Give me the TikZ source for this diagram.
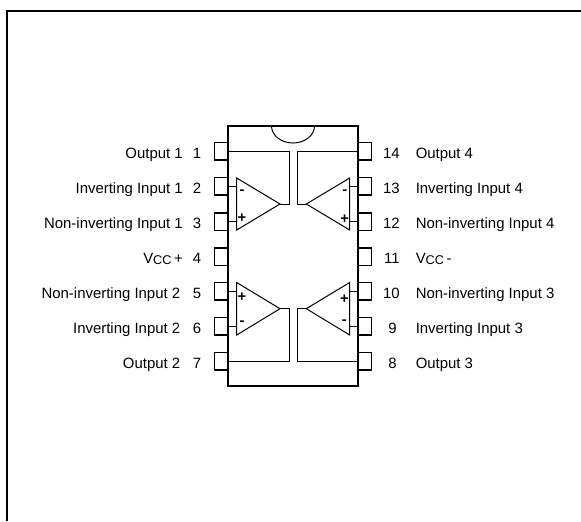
\documentclass[tikz,border=0pt]{standalone}
\usepackage{fontspec}
\setmainfont{Liberation Sans}
\newcommand{\vccname}{V{\fontsize{9.5pt}{10pt}\selectfont\raisebox{-0.8pt}{CC}}}
\tikzset{
  pinbox/.style={draw,line width=1pt,fill=white,minimum width=10pt,minimum height=13pt,inner sep=0pt,outer sep=0pt},
  pinlabel/.style={inner sep=0.75pt,font=\fontsize{11.2pt}{12pt}\selectfont},
  wire/.style={line width=0.75pt},
  signmark/.style={inner sep=0pt,font=\bfseries\fontsize{11pt}{12pt}\selectfont}
}
\begin{document}
\begin{tikzpicture}[x=0.75pt,y=0.75pt,yscale=-1,xscale=1]
\useasboundingbox (0,0) rectangle (581,521);

%Frame
\coordinate (frameTL) at (7,10.5);
\coordinate (frameTR) at (581,10.5);
\coordinate (frameBL) at (7,521);
\draw [line width=1.5pt] (frameTR) -- (frameTL) -- (frameBL);

%Package
\coordinate (chipTL) at (228,126);
\coordinate (chipBR) at (358,386);
\coordinate (notchL) at (271.5,126);
\coordinate (notchR) at (314.5,126);
\draw [line width=1.1pt] (chipTL) rectangle (chipBR);
\draw [wire] (notchL) arc [start angle=180,end angle=360,x radius=21.5,y radius=-17];

%Pins left
\node (p1) [pinbox,anchor=east] at (228,151.3) {};
\node (p2) [pinbox,anchor=east] at (228,186.3) {};
\node (p3) [pinbox,anchor=east] at (228,221.5) {};
\node (p4) [pinbox,anchor=east] at (228,256.5) {};
\node (p5) [pinbox,anchor=east] at (228,291.3) {};
\node (p6) [pinbox,anchor=east] at (228,326.3) {};
\node (p7) [pinbox,anchor=east] at (228,361.3) {};
%Pins right
\node (p14) [pinbox,anchor=west] at (358,151.3) {};
\node (p13) [pinbox,anchor=west] at (358,186.3) {};
\node (p12) [pinbox,anchor=west] at (358,221.5) {};
\node (p11) [pinbox,anchor=west] at (358,256.5) {};
\node (p10) [pinbox,anchor=west] at (358,291.3) {};
\node (p9) [pinbox,anchor=west] at (358,326.3) {};
\node (p8) [pinbox,anchor=west] at (358,361.3) {};

%Amp 1
\coordinate (a1T) at (236.7,178);
\coordinate (a1B) at (236.7,230);
\coordinate (a1O) at (280,204);
\coordinate (a1E) at (289,204);
\draw [wire] (a1T) -- (a1B) -- (a1O) -- cycle;
\draw [wire] (p2.east) -- (p2.east -| a1T);
\draw [wire] (p3.east) -- (p3.east -| a1T);
\draw [wire] (a1O) -- (a1E) -- (a1E |- p1.east) -- (p1.east);
%Amp 4
\coordinate (a4T) at (349.7,178);
\coordinate (a4B) at (349.7,230);
\coordinate (a4O) at (306.3,204);
\coordinate (a4E) at (297.3,204);
\draw [wire] (a4T) -- (a4B) -- (a4O) -- cycle;
\draw [wire] (p13.west) -- (p13.west -| a4T);
\draw [wire] (p12.west) -- (p12.west -| a4T);
\draw [wire] (a4O) -- (a4E) -- (a4E |- p14.west) -- (p14.west);
%Amp 2
\coordinate (a2T) at (236.7,282.5);
\coordinate (a2B) at (236.7,335);
\coordinate (a2O) at (280,308.7);
\coordinate (a2E) at (289,308.7);
\draw [wire] (a2T) -- (a2B) -- (a2O) -- cycle;
\draw [wire] (p5.east) -- (p5.east -| a2T);
\draw [wire] (p6.east) -- (p6.east -| a2T);
\draw [wire] (a2O) -- (a2E) -- (a2E |- p7.east) -- (p7.east);
%Amp 3
\coordinate (a3T) at (349.7,282.5);
\coordinate (a3B) at (349.7,335);
\coordinate (a3O) at (306.3,308.7);
\coordinate (a3E) at (297.3,308.7);
\draw [wire] (a3T) -- (a3B) -- (a3O) -- cycle;
\draw [wire] (p10.west) -- (p10.west -| a3T);
\draw [wire] (p9.west) -- (p9.west -| a3T);
\draw [wire] (a3O) -- (a3E) -- (a3E |- p8.west) -- (p8.west);

%Signs
\node (s1m) [signmark] at (242,191.7) {-};
\node (s1p) [signmark] at (242,218) {+};
\node (s4m) [signmark] at (344.7,191.7) {-};
\node (s4p) [signmark] at (344.7,219) {+};
\node (s2p) [signmark] at (242,296.7) {+};
\node (s2m) [signmark] at (242,323.3) {-};
\node (s3p) [signmark] at (344.3,298.7) {+};
\node (s3m) [signmark] at (344.3,321.7) {-};

%Numbers left
\node (n1) [pinlabel,anchor=base east] at (202.5,158.2) {1};
\node (n2) [pinlabel,anchor=base east] at (202.5,193.2) {2};
\node (n3) [pinlabel,anchor=base east] at (202.5,228.4) {3};
\node (n4) [pinlabel,anchor=base east] at (202.5,263.4) {4};
\node (n5) [pinlabel,anchor=base east] at (202.5,298.2) {5};
\node (n6) [pinlabel,anchor=base east] at (202.5,333.2) {6};
\node (n7) [pinlabel,anchor=base east] at (202.5,368.2) {7};
%Numbers right
\node (n14) [pinlabel,anchor=base east] at (401,158.2) {14};
\node (n13) [pinlabel,anchor=base east] at (401,193.2) {13};
\node (n12) [pinlabel,anchor=base east] at (401,228.4) {12};
\node (n11) [pinlabel,anchor=base east] at (401,263.4) {11};
\node (n10) [pinlabel,anchor=base east] at (401,298.2) {10};
\node (n9) [pinlabel,anchor=base east] at (398,333.2) {9};
\node (n8) [pinlabel,anchor=base east] at (398,368.2) {8};

%Names left
\node (t1) [pinlabel,anchor=base east] at (184,158.2) {Output 1};
\node (t2) [pinlabel,anchor=base east] at (184,193.2) {Inverting Input 1};
\node (t3) [pinlabel,anchor=base east] at (184,228.4) {Non-inverting Input 1};
\node (t4) [pinlabel,anchor=base east] at (184,263.4) {\vccname\,+};
\node (t5) [pinlabel,anchor=base east] at (181.5,298.2) {Non-inverting Input 2};
\node (t6) [pinlabel,anchor=base east] at (181.5,333.2) {Inverting Input 2};
\node (t7) [pinlabel,anchor=base east] at (181.5,368.2) {Output 2};
%Names right
\node (t14) [pinlabel,anchor=base west] at (414.5,158.2) {Output 4};
\node (t13) [pinlabel,anchor=base west] at (414.5,193.2) {Inverting Input 4};
\node (t12) [pinlabel,anchor=base west] at (414.5,228.4) {Non-inverting Input 4};
\node (t11) [pinlabel,anchor=base west] at (414.5,263.4) {\vccname\,-};
\node (t10) [pinlabel,anchor=base west] at (414.5,298.2) {Non-inverting Input 3};
\node (t9) [pinlabel,anchor=base west] at (414.5,333.2) {Inverting Input 3};
\node (t8) [pinlabel,anchor=base west] at (414.5,368.2) {Output 3};

\end{tikzpicture}
\end{document}
